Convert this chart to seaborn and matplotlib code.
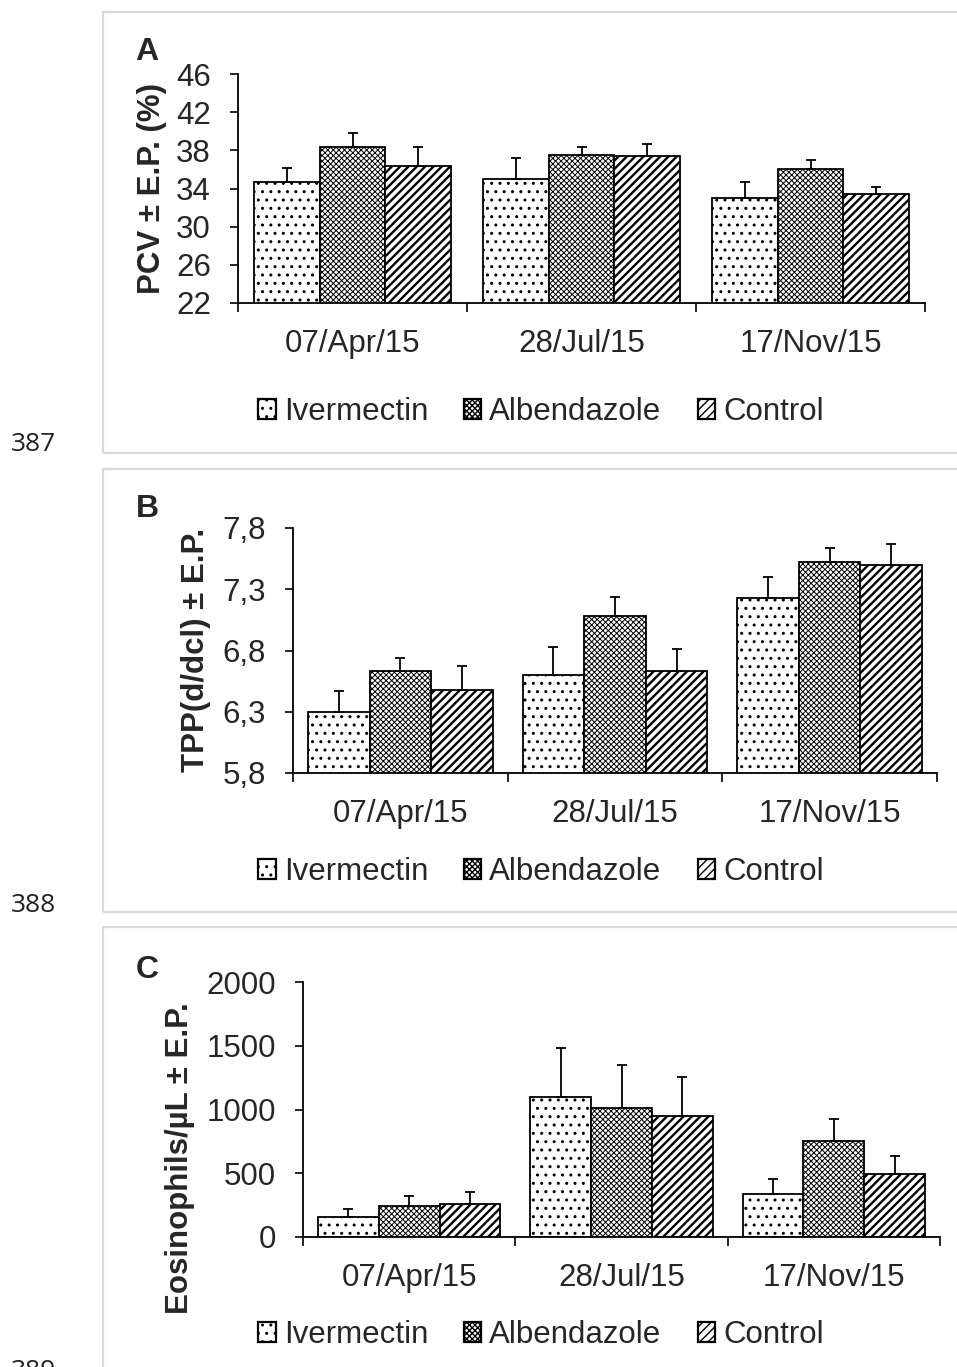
import numpy as np
import pandas as pd
import matplotlib
matplotlib.use("Agg")
import matplotlib.pyplot as plt
from matplotlib.patches import Patch, Rectangle
import seaborn as sns

# ---------------- data ----------------
dates = ["07/Apr/15", "28/Jul/15", "17/Nov/15"]
groups = ["Ivermectin", "Albendazole", "Control"]

pcv_iver = [34.7, 35.0, 33.0]
pcv_alb = [38.3, 37.5, 36.0]
pcv_ctrl = [36.4, 37.4, 33.4]
pcv_iver_err = [1.5, 2.2, 1.7]
pcv_alb_err = [1.5, 0.9, 1.0]
pcv_ctrl_err = [2.0, 1.3, 0.75]
pcv_ticks = [22, 26, 30, 34, 38, 42, 46]
pcv_ticklabels = ["22", "26", "30", "34", "38", "42", "46"]

tpp_iver = [6.30, 6.60, 7.23]
tpp_alb = [6.63, 7.08, 7.52]
tpp_ctrl = [6.48, 6.63, 7.50]
tpp_iver_err = [0.17, 0.23, 0.17]
tpp_alb_err = [0.11, 0.16, 0.12]
tpp_ctrl_err = [0.19, 0.18, 0.17]
tpp_ticks = [5.8, 6.3, 6.8, 7.3, 7.8]
tpp_ticklabels = ["5,8", "6,3", "6,8", "7,3", "7,8"]

eos_iver = [155, 1100, 340]
eos_alb = [245, 1010, 755]
eos_ctrl = [260, 950, 497]
eos_iver_err = [62, 380, 114]
eos_alb_err = [80, 340, 172]
eos_ctrl_err = [96, 305, 141]
eos_ticks = [0, 500, 1000, 1500, 2000]
eos_ticklabels = ["0", "500", "1000", "1500", "2000"]

# ---------------- style ----------------
sns.set_style("ticks")
plt.rcParams["font.family"] = ["Liberation Sans", "DejaVu Sans"]

W, H = 957, 1367
fig = plt.figure(figsize=(W / 100, H / 100), dpi=100)

FS = 22.5
hatches = ["..", "xxxxxx", "////"]
hatch_lw = [1.0, 0.7, 1.7]


def set_hlw(p, lw):
    if hasattr(p, "set_hatch_linewidth"):
        p.set_hatch_linewidth(lw)
    else:
        p._hatch_linewidth = lw


def panel_box(top, bottom):
    r = Rectangle((103 / W, 1 - bottom / H), (1000 - 103) / W, (bottom - top) / H,
                  transform=fig.transFigure, fill=False, edgecolor="#d9d9d9",
                  linewidth=1.6, zorder=0)
    fig.add_artist(r)


def draw_panel(box, vals, errs, ticks, ticklabels, ylabel, letter, letter_xy,
               ylabel_xy, legend_y):
    l, r, t, b = box
    ax = fig.add_axes([l / W, 1 - b / H, (r - l) / W, (b - t) / H])
    df = pd.DataFrame({
        "date": dates * 3,
        "group": np.repeat(groups, 3),
        "value": np.concatenate(vals),
    })
    sns.barplot(data=df, x="date", y="value", hue="group", order=dates,
                hue_order=groups, errorbar=None, width=0.86, ax=ax,
                legend=False, palette={g: "white" for g in groups},
                edgecolor="black", linewidth=1.3, saturation=1)
    for cont, h, hl, err in zip(ax.containers, hatches, hatch_lw, errs):
        for bar, e in zip(cont, err):
            bar.set_hatch(h)
            set_hlw(bar, hl)
            x = bar.get_x() + bar.get_width() / 2
            y = bar.get_height()
            ax.errorbar(x, y, yerr=[[0], [e]], fmt="none", ecolor="black",
                        elinewidth=1.3, capsize=3.6, capthick=1.3, zorder=5)
    ax.set_ylim(ticks[0], ticks[-1])
    ax.set_yticks(ticks)
    ax.set_yticklabels(ticklabels)
    ax.set_xlim(-0.5, 2.5)
    ax.set_xticks([-0.5, 0.5, 1.5, 2.5])
    ax.set_xticklabels([])
    ax.set_xticks([0, 1, 2], minor=True)
    ax.set_xticklabels(dates, minor=True)
    ax.tick_params(axis="x", which="minor", length=0, pad=18.5, labelsize=FS)
    ax.tick_params(axis="x", which="major", length=6.5, width=1.2,
                   direction="out", color="black")
    ax.tick_params(axis="y", which="major", length=6, width=1.2, pad=13.5,
                   labelsize=FS, direction="out", color="black")
    sns.despine(ax=ax)
    for s in ["left", "bottom"]:
        ax.spines[s].set_color("black")
        ax.spines[s].set_linewidth(1.3)
    ax.set_xlabel("")
    ax.set_ylabel(ylabel, fontsize=FS, fontweight="bold")
    ax.yaxis.set_label_coords(ylabel_xy[0] / W, 1 - ylabel_xy[1] / H,
                              transform=fig.transFigure)
    ax.yaxis.label.set_va("center")
    ax.set_facecolor("none")
    fig.text(letter_xy[0] / W, 1 - letter_xy[1] / H, letter, fontsize=23,
             fontweight="bold", ha="center", va="center")
    handles = [Patch(facecolor="white", edgecolor="black", hatch=h,
                     linewidth=1.6) for h in hatches]
    for hnd, hl in zip(handles, hatch_lw):
        set_hlw(hnd, hl)
    fig.legend(handles, groups, loc="center",
               bbox_to_anchor=(541 / W, 1 - legend_y / H), ncol=3,
               frameon=False, fontsize=FS, handlelength=0.55,
               handleheight=0.58, handletextpad=0.26, columnspacing=1.15,
               borderpad=0, borderaxespad=0)
    return ax


panel_box(12, 453)
panel_box(469, 912)
panel_box(927, 1400)

draw_panel((238, 925, 74, 303), [pcv_iver, pcv_alb, pcv_ctrl],
           [pcv_iver_err, pcv_alb_err, pcv_ctrl_err], pcv_ticks,
           pcv_ticklabels, "PCV ± E.P. (%)", "A", (147, 52), (152, 188), 412)
draw_panel((293, 937, 528, 773), [tpp_iver, tpp_alb, tpp_ctrl],
           [tpp_iver_err, tpp_alb_err, tpp_ctrl_err], tpp_ticks,
           tpp_ticklabels, "TPP(d/dcl) ± E.P.", "B", (147, 509), (196, 650), 872)
draw_panel((303, 940, 982, 1237), [eos_iver, eos_alb, eos_ctrl],
           [eos_iver_err, eos_alb_err, eos_ctrl_err], eos_ticks,
           eos_ticklabels, "Eosinophils/µL ± E.P.", "C", (147, 970), (180, 1158), 1335)

for lbl, yy in [("387", 445), ("388", 906), ("389", 1371)]:
    fig.text(33 / W, 1 - yy / H, lbl, fontsize=19, family=["Open Sans", "DejaVu Sans"],
             color="#222222", ha="center", va="center")

fig.savefig("out.png", dpi=100)
